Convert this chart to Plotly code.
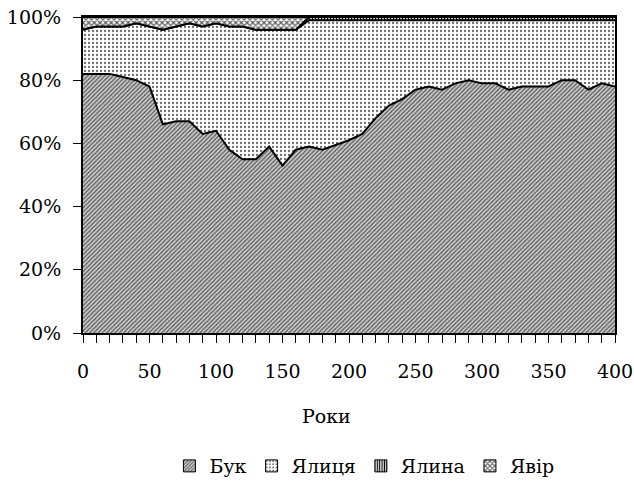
import plotly.graph_objects as go

years = list(range(0, 401, 10))
buk = [82, 82, 82, 81, 80, 78, 66, 67, 67, 63, 64, 58, 55, 55, 59, 53, 58, 59, 58, 59.5, 61,
       63, 68, 72, 74, 77, 78, 77, 79, 80, 79, 79, 77, 78, 78, 78, 80, 80, 77, 79, 78]
yalytsia = [14, 15, 15, 16, 18, 19, 30, 30, 31, 34, 34, 39, 42, 41, 37, 43, 38, 40, 41, 39.5, 38,
            36, 31, 27, 25, 22, 21, 22, 20, 19, 20, 20, 22, 21, 21, 21, 19, 19, 22, 20, 21]
yalyna = [0] * 17 + [1] * 24
yavir = [4, 3, 3, 3, 2, 3, 4, 3, 2, 3, 2, 3, 3, 4, 4, 4, 4] + [0] * 24
names = ["Бук", "Ялиця", "Ялина", "Явір"]
x_ticks = [0, 50, 100, 150, 200, 250, 300, 350, 400]
y_ticks = [0, 20, 40, 60, 80, 100]
y_labels = ["0%", "20%", "40%", "60%", "80%", "100%"]

FONT = "DejaVu Serif"
FS = 19
patterns = [
    dict(shape="/", size=3, solidity=0.4, fgcolor="#555555", bgcolor="#cccccc"),
    dict(shape=".", size=4, solidity=0.25, fgcolor="#6a6a6a", bgcolor="#ffffff"),
    dict(shape="|", size=3, solidity=0.5, fgcolor="#000000", bgcolor="#ffffff"),
    dict(shape="x", size=4, solidity=0.5, fgcolor="#555555", bgcolor="#ffffff"),
]
series = [buk, yalytsia, yalyna, yavir]

fig = go.Figure()
for name, vals, pat in zip(names, series, patterns):
    fig.add_trace(go.Scatter(
        x=years, y=vals, name=name, stackgroup="one", mode="lines",
        line=dict(color="black", width=2),
        fillcolor=pat["bgcolor"],
        fillpattern=dict(shape=pat["shape"], size=pat["size"], solidity=pat["solidity"],
                         fgcolor=pat["fgcolor"], bgcolor=pat["bgcolor"], fillmode="replace"),
        showlegend=False, hoverinfo="skip",
    ))
# legend swatches
for name, pat in zip(names, patterns):
    fig.add_trace(go.Bar(
        x=[None], y=[None], name=name,
        marker=dict(color=pat["bgcolor"], line=dict(color="black", width=1),
                    pattern=dict(shape=pat["shape"], size=pat["size"], solidity=pat["solidity"],
                                 fgcolor=pat["fgcolor"], bgcolor=pat["bgcolor"], fillmode="replace")),
    ))

fig.update_layout(
    width=634, height=483,
    margin=dict(l=83, r=19, t=17, b=150, autoexpand=False),
    paper_bgcolor="white", plot_bgcolor="white",
    font_family=FONT, font_size=FS, font_color="black",
    showlegend=True,
    legend=dict(orientation="h", x=0.529, xanchor="center", y=-0.421, yanchor="middle",
                itemclick=False, traceorder="normal", font=dict(size=FS)),
    xaxis=dict(range=[0, 400], tickmode="array", tickvals=x_ticks, ticktext=[str(v) for v in x_ticks],
               ticks="outside", ticklen=8, tickwidth=1, automargin=False, ticklabelstandoff=12,
               ticklabeloverflow="allow",
               tickcolor="black", showline=True, linecolor="black", linewidth=2, mirror=True,
               showgrid=False, zeroline=False, tickfont=dict(size=FS),
               minor=dict(dtick=10, ticks="outside", ticklen=8, tickcolor="black", tickwidth=1, showgrid=False)),
    yaxis=dict(range=[0, 100], tickmode="array", tickvals=y_ticks, ticktext=y_labels,
               ticks="outside", ticklen=8, automargin=False, ticklabelstandoff=8,
               ticklabeloverflow="allow", tickfont=dict(size=FS),
               tickcolor="black", showline=True, linecolor="black", linewidth=2, mirror=True,
               showgrid=False, zeroline=False),
    annotations=[dict(text="Роки", x=0.457, y=-0.263, xref="paper", yref="paper",
                      xanchor="center", yanchor="middle", showarrow=False,
                      font=dict(size=FS))],
)

fig.write_html("out.html")
